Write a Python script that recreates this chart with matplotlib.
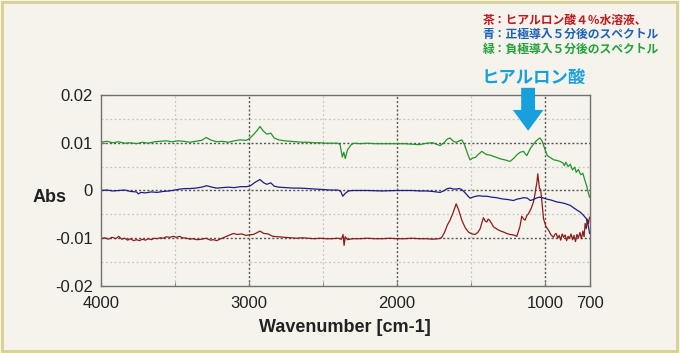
import matplotlib.pyplot as plt
from matplotlib.patches import Rectangle

# ===============================
# Datos (número de onda, absorbancia)
# ===============================
green_wn = [4000, 3960, 3920, 3880, 3840, 3800, 3760, 3720, 3680, 3640, 3600, 3560, 3520, 3480,
            3440, 3400, 3360, 3320, 3290, 3260, 3220, 3180, 3140, 3100, 3060, 3020, 3000, 2970,
            2945, 2926, 2905, 2880, 2853, 2830, 2800, 2760, 2720, 2680, 2640, 2600, 2560, 2520,
            2480, 2440, 2400, 2385, 2370, 2360, 2350, 2335, 2310, 2290, 2250, 2200, 2150, 2100,
            2050, 2000, 1950, 1900, 1850, 1800, 1760, 1735, 1710, 1680, 1660, 1642, 1620, 1600,
            1580, 1563, 1545, 1525, 1507, 1490, 1473, 1450, 1428, 1410, 1394, 1370, 1345, 1326,
            1300, 1270, 1250, 1236, 1210, 1190, 1169, 1146, 1135, 1124, 1100, 1079, 1060, 1045,
            1035, 1020, 1000, 985, 960, 940, 921, 900, 880, 870, 860, 845, 830, 815, 800, 790,
            775, 760, 745, 735, 720, 708, 700]
green_abs = [0.0101, 0.0103, 0.0100, 0.0102, 0.0099, 0.0100, 0.0098, 0.0101, 0.0099, 0.0102,
             0.0103, 0.0104, 0.0102, 0.0104, 0.0103, 0.0101, 0.0103, 0.0105, 0.0111, 0.0106,
             0.0102, 0.0103, 0.0101, 0.0104, 0.0106, 0.0105, 0.0108, 0.0117, 0.0126, 0.0134,
             0.0125, 0.0118, 0.0120, 0.0110, 0.0106, 0.0104, 0.0103, 0.0102, 0.0101, 0.0101,
             0.0100, 0.0100, 0.0099, 0.0099, 0.0099, 0.0096, 0.0070, 0.0080, 0.0067, 0.0085,
             0.0096, 0.0099, 0.0098, 0.0099, 0.0098, 0.0098, 0.0098, 0.0098, 0.0098, 0.0097,
             0.0096, 0.0099, 0.0100, 0.0097, 0.0094, 0.0101, 0.0108, 0.0110, 0.0103, 0.0101,
             0.0104, 0.0106, 0.0096, 0.0078, 0.0064, 0.0068, 0.0069, 0.0076, 0.0082, 0.0078,
             0.0075, 0.0074, 0.0071, 0.0069, 0.0066, 0.0064, 0.0062, 0.0061, 0.0068, 0.0075,
             0.0080, 0.0082, 0.0077, 0.0073, 0.0088, 0.0097, 0.0104, 0.0108, 0.0110, 0.0103,
             0.0085, 0.0073, 0.0068, 0.0064, 0.0063, 0.0061, 0.0058, 0.0052, 0.0059, 0.0050,
             0.0055, 0.0043, 0.0049, 0.0038, 0.0044, 0.0033, 0.0036, 0.0025, 0.0010, -0.0005,
             -0.0014]

blue_wn = [4000, 3960, 3920, 3880, 3840, 3800, 3760, 3748, 3730, 3700, 3660, 3620, 3580, 3540,
           3500, 3466, 3430, 3400, 3360, 3320, 3286, 3250, 3218, 3180, 3140, 3100, 3060, 3016,
           2990, 2960, 2926, 2900, 2880, 2853, 2830, 2800, 2750, 2700, 2655, 2600, 2550, 2500,
           2450, 2400, 2380, 2367, 2350, 2329, 2300, 2200, 2100, 2000, 1900, 1845, 1800, 1760,
           1709, 1680, 1660, 1642, 1620, 1600, 1580, 1563, 1540, 1520, 1507, 1480, 1450, 1420,
           1394, 1360, 1330, 1300, 1281, 1250, 1214, 1190, 1169, 1146, 1120, 1101, 1080, 1060,
           1040, 1020, 1000, 989, 960, 921, 899, 870, 831, 809, 780, 764, 741, 722, 712, 705, 700]
blue_abs = [0.0000, 0.0001, -0.0001, 0.0000, 0.0001, -0.0002, -0.0003, -0.0007, -0.0004,
            -0.0005, -0.0003, -0.0004, -0.0002, -0.0001, 0.0001, 0.0003, 0.0004, 0.0004, 0.0005,
            0.0007, 0.0010, 0.0007, 0.0005, 0.0006, 0.0007, 0.0006, 0.0008, 0.0008, 0.0010,
            0.0017, 0.0023, 0.0016, 0.0013, 0.0016, 0.0009, 0.0007, 0.0006, 0.0005, 0.0005,
            0.0004, 0.0003, 0.0002, 0.0001, 0.0001, -0.0002, -0.0012, -0.0006, -0.0001, 0.0000,
            0.0000, -0.0001, 0.0000, 0.0000, -0.0001, -0.0001, -0.0002, -0.0004, 0.0000, 0.0004,
            0.0005, 0.0003, 0.0003, 0.0004, 0.0002, -0.0005, -0.0012, -0.0016, -0.0013, -0.0011,
            -0.0012, -0.0012, -0.0014, -0.0015, -0.0017, -0.0018, -0.0019, -0.0021, -0.0018,
            -0.0017, -0.0015, -0.0016, -0.0021, -0.0019, -0.0016, -0.0014, -0.0015, -0.0017,
            -0.0018, -0.0020, -0.0024, -0.0025, -0.0027, -0.0031, -0.0036, -0.0042, -0.0045,
            -0.0052, -0.0059, -0.0070, -0.0080, -0.0090]

red_wn = [4000, 3975, 3950, 3925, 3900, 3880, 3860, 3840, 3820, 3800, 3780, 3760, 3740, 3720,
          3700, 3680, 3660, 3640, 3620, 3600, 3580, 3560, 3534, 3510, 3490, 3470, 3450, 3420,
          3400, 3380, 3350, 3320, 3290, 3260, 3240, 3218, 3190, 3160, 3130, 3106, 3080, 3050,
          3020, 3000, 2970, 2950, 2926, 2900, 2870, 2840, 2800, 2760, 2720, 2680, 2640, 2600,
          2560, 2520, 2480, 2440, 2400, 2375, 2365, 2358, 2350, 2335, 2300, 2250, 2200, 2150,
          2100, 2050, 2000, 1950, 1900, 1850, 1800, 1760, 1720, 1700, 1680, 1660, 1642, 1620,
          1601, 1585, 1563, 1540, 1518, 1495, 1473, 1455, 1439, 1425, 1417, 1405, 1394, 1385,
          1376, 1360, 1349, 1320, 1300, 1281, 1260, 1240, 1215, 1191, 1170, 1158, 1145, 1135,
          1123, 1113, 1095, 1079, 1070, 1063, 1055, 1050, 1044, 1038, 1030, 1020, 1011, 995,
          978, 960, 944, 935, 925, 915, 905, 895, 885, 875, 865, 855, 845, 835, 825, 815, 805,
          795, 785, 775, 765, 755, 745, 737, 730, 722, 715, 708, 700]
red_abs = [-0.0101, -0.0099, -0.0102, -0.0098, -0.0101, -0.0096, -0.0102, -0.0100, -0.0104,
           -0.0101, -0.0105, -0.0103, -0.0105, -0.0102, -0.0104, -0.0101, -0.0103, -0.0100,
           -0.0101, -0.0099, -0.0100, -0.0097, -0.0098, -0.0096, -0.0098, -0.0096, -0.0099,
           -0.0100, -0.0102, -0.0101, -0.0103, -0.0102, -0.0100, -0.0104, -0.0103, -0.0105,
           -0.0101, -0.0097, -0.0093, -0.0090, -0.0092, -0.0091, -0.0094, -0.0093, -0.0092,
           -0.0089, -0.0085, -0.0090, -0.0091, -0.0096, -0.0097, -0.0098, -0.0099, -0.0100,
           -0.0099, -0.0100, -0.0101, -0.0100, -0.0101, -0.0101, -0.0100, -0.0102, -0.0092,
           -0.0115, -0.0097, -0.0103, -0.0101, -0.0101, -0.0100, -0.0101, -0.0101, -0.0100,
           -0.0101, -0.0101, -0.0100, -0.0101, -0.0101, -0.0102, -0.0101, -0.0099, -0.0088,
           -0.0072, -0.0062, -0.0045, -0.0028, -0.0040, -0.0062, -0.0078, -0.0087, -0.0091,
           -0.0092, -0.0088, -0.0080, -0.0065, -0.0057, -0.0064, -0.0066, -0.0060, -0.0062,
           -0.0070, -0.0076, -0.0082, -0.0085, -0.0087, -0.0090, -0.0092, -0.0093, -0.0096,
           -0.0075, -0.0054, -0.0060, -0.0062, -0.0052, -0.0049, -0.0038, -0.0024, -0.0010,
           0.0004, 0.0018, 0.0035, 0.0020, 0.0004, 0.0002, -0.0030, -0.0059, -0.0075, -0.0083,
           -0.0093, -0.0098, -0.0092, -0.0090, -0.0100, -0.0094, -0.0104, -0.0091, -0.0098,
           -0.0093, -0.0105, -0.0096, -0.0100, -0.0091, -0.0103, -0.0094, -0.0107, -0.0092,
           -0.0099, -0.0088, -0.0101, -0.0085, -0.0097, -0.0069, -0.0080, -0.0060, -0.0070,
           -0.0056]

x_ticks = [4000, 3000, 2000, 1000, 700]
y_ticks = [-0.02, -0.01, 0, 0.01, 0.02]
y_tick_labels = ["-0.02", "-0.01", "0", "0.01", "0.02"]

legend_lines = ["茶：ヒアルロン酸４％水溶液、",
                "青：正極導入５分後のスペクトル",
                "緑：負極導入５分後のスペクトル"]
legend_colors = ["#c0161e", "#1c62b8", "#22a03c"]

# ===============================
# Figura
# ===============================
bg = "#f6f3ec"
fig = plt.figure(figsize=(6.8, 3.53), dpi=100, facecolor=bg)
fig.patches.append(Rectangle((0.003, 0.006), 0.993, 0.988, transform=fig.transFigure,
                             fill=False, edgecolor="#d9d08e", linewidth=2))

ax = fig.add_axes([0.1485, 0.1898, 0.7185, 0.5411])
ax.set_facecolor(bg)

ax.plot(red_wn, red_abs, color="#8c1c1c", linewidth=0.9)
ax.plot(blue_wn, blue_abs, color="#1c1c8c", linewidth=0.9)
ax.plot(green_wn, green_abs, color="#22962a", linewidth=0.9)

ax.set_xlim(4000, 700)
ax.set_ylim(-0.02, 0.02)

# rejilla: líneas menores claras, mayores oscuras
for x in [3500, 2500, 1500]:
    ax.axvline(x, color="#c4c4c4", linestyle=(0, (1.5, 2)), linewidth=0.9, zorder=0)
for x in [3000, 2000, 1000]:
    ax.axvline(x, color="#555555", linestyle=(0, (1.5, 1.5)), linewidth=1.0, zorder=0)
for y in [-0.015, -0.005, 0.005, 0.015]:
    ax.axhline(y, color="#c4c4c4", linestyle=(0, (1.5, 2)), linewidth=0.9, zorder=0)
for y in [-0.01, 0, 0.01]:
    ax.axhline(y, color="#555555", linestyle=(0, (1.5, 1.5)), linewidth=1.0, zorder=0)

ax.set_xticks(x_ticks)
ax.set_xticklabels([str(v) for v in x_ticks])
ax.set_xticks([3500, 2500, 1500], minor=True)
ax.set_yticks(y_ticks)
ax.set_yticklabels(y_tick_labels)
ax.tick_params(axis="both", which="both", direction="in", length=3, color="#777777",
               labelsize=12, labelcolor="#222222")
ax.tick_params(axis="x", pad=7)
ax.tick_params(axis="y", pad=6)
for lbl in ax.get_xticklabels() + ax.get_yticklabels():
    lbl.set_fontfamily("Liberation Sans")

for s in ax.spines.values():
    s.set_color("#707070")
    s.set_linewidth(1.0)

ax.set_xlabel("Wavenumber [cm-1]", fontsize=13, fontweight="bold", family="Liberation Sans",
              color="#222222", labelpad=6)
fig.text(0.0735, 0.44, "Abs", fontsize=13, fontweight="bold", family="Liberation Sans",
         color="#222222", ha="center", va="center")

# flecha y etiqueta
ax.annotate("", xy=(1115, 0.0125), xytext=(1115, 0.0215), annotation_clip=False,
            arrowprops=dict(width=10, headwidth=22, headlength=15, shrink=0,
                            facecolor="#18a0dc", edgecolor="none"))
fig.text(0.785, 0.779, "ヒアルロン酸", fontsize=12.5, fontweight="bold", color="#18a0dc",
         family=["Noto Sans CJK JP", "DejaVu Sans"], ha="center", va="center")

for i, (t, c) in enumerate(zip(legend_lines, legend_colors)):
    fig.text(0.710, 0.943 - i * 0.041, t, fontsize=8.5, fontweight="bold", color=c,
             family=["Noto Sans CJK JP", "DejaVu Sans"], ha="left", va="center")

fig.savefig("out.png", dpi=100, facecolor=bg)
